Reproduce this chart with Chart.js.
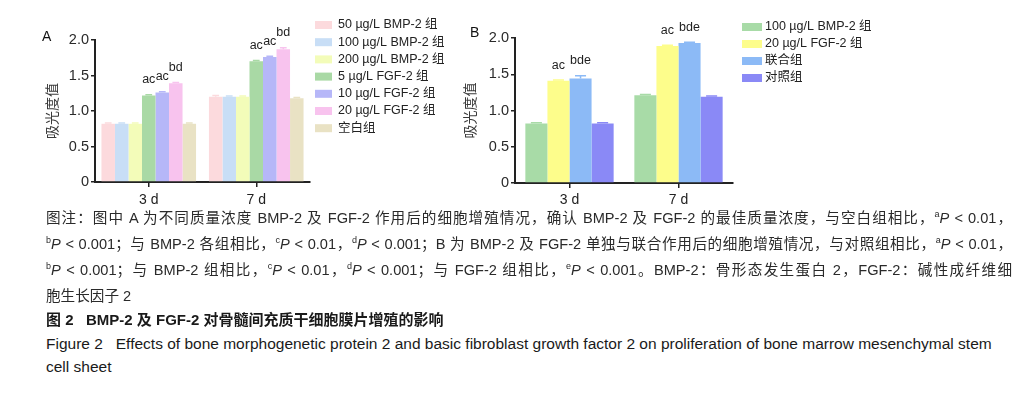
<!DOCTYPE html>
<html>
<head>
<meta charset="utf-8">
<script src="https://cdn.jsdelivr.net/npm/chart.js@4.4.1/dist/chart.umd.min.js"></script>
<style>
  body { margin: 0; background: #fff; width: 1036px; height: 394px; position: relative; overflow: hidden;
         font-family: "Liberation Sans", Arial, "Noto Sans CJK SC", sans-serif; color: #2a2a2a; }
  .box { position: absolute; top: 0; height: 210px; }
  #boxA { left: 0; width: 460px; }
  #boxB { left: 460px; width: 430px; }
  .tag { position: absolute; font-size: 14px; color: #111; }
  .cap { position: absolute; left: 46px; width: 966px; font-size: 14.6px; }
  .cap div { height: 26px; line-height: 26px; white-space: nowrap; }
  .cap .j { text-align: justify; text-align-last: justify; white-space: normal; overflow: hidden; }
  sup { font-size: 9px; vertical-align: 6px; line-height: 0; }
  .ttl { position: absolute; left: 46px; top: 308px; font-size: 15px; font-weight: bold; line-height: 24px; color: #1a1a1a; }
  .eng { position: absolute; left: 46px; top: 332px; font-size: 15.5px; line-height: 23px; width: 960px; color: #1a1a1a; }
</style>
</head>
<body>
<div id="boxA" class="box"><canvas id="chartA"></canvas></div>
<div id="boxB" class="box"><canvas id="chartB"></canvas></div>
<div class="tag" style="left:42px;top:28px;">A</div>
<div class="tag" style="left:470px;top:24px;">B</div>

<div class="cap" style="top:205px;">
  <div class="j">图注：图中 A 为不同质量浓度 BMP-2 及 FGF-2 作用后的细胞增殖情况，确认 BMP-2 及 FGF-2 的最佳质量浓度，与空白组相比，<sup>a</sup><i>P</i>&nbsp;&lt;&nbsp;0.01，</div>
  <div class="j"><sup>b</sup><i>P</i>&nbsp;&lt;&nbsp;0.001；与 BMP-2 各组相比，<sup>c</sup><i>P</i>&nbsp;&lt;&nbsp;0.01，<sup>d</sup><i>P</i>&nbsp;&lt;&nbsp;0.001；B 为 BMP-2 及 FGF-2 单独与联合作用后的细胞增殖情况，与对照组相比，<sup>a</sup><i>P</i>&nbsp;&lt;&nbsp;0.01，</div>
  <div class="j"><sup>b</sup><i>P</i>&nbsp;&lt;&nbsp;0.001；与 BMP-2 组相比，<sup>c</sup><i>P</i>&nbsp;&lt;&nbsp;0.01，<sup>d</sup><i>P</i>&nbsp;&lt;&nbsp;0.001；与 FGF-2 组相比，<sup>e</sup><i>P</i>&nbsp;&lt;&nbsp;0.001。BMP-2：骨形态发生蛋白 2，FGF-2：碱性成纤维细</div>
  <div>胞生长因子 2</div>
</div>
<div class="ttl">图 2&nbsp;&nbsp; BMP-2 及 FGF-2 对骨髓间充质干细胞膜片增殖的影响</div>
<div class="eng">Figure 2&nbsp;&nbsp; Effects of bone morphogenetic protein 2 and basic fibroblast growth factor 2 on proliferation of bone marrow mesenchymal stem cell sheet</div>

<script>
// categories / ticks
const days = ["3 d", "7 d"];
const yTickLabels = ["0", "0.5", "1.0", "1.5", "2.0"];

// Panel A series (3 d, 7 d)
const namesA = ["50 µg/L BMP-2 组", "100 µg/L BMP-2 组", "200 µg/L BMP-2 组", "5 µg/L FGF-2 组", "10 µg/L FGF-2 组", "20 µg/L FGF-2 组", "空白组"];
const bmp50 = [0.82, 1.20];
const bmp100 = [0.82, 1.20];
const bmp200 = [0.82, 1.20];
const fgf5 = [1.22, 1.70];
const fgf10 = [1.26, 1.76];
const fgf20 = [1.39, 1.87];
const blankA = [0.82, 1.18];
const errA = [[0.01, 0.02], [0.01, 0.01], [0.01, 0.01], [0.01, 0.01], [0.01, 0.01], [0.01, 0.02], [0.01, 0.01]];
const marksA = [["", ""], ["", ""], ["", ""], ["ac", "ac"], ["ac", "ac"], ["bd", "bd"], ["", ""]];
const colorsA = ["#fcdadd", "#c8def6", "#f3fcb9", "#a9d9a5", "#b6b7f8", "#f8c3ee", "#e9e2c4"];

// Panel B series (3 d, 7 d)
const namesB = ["100 µg/L BMP-2 组", "20 µg/L FGF-2 组", "联合组", "对照组"];
const bmpB = [0.82, 1.21];
const fgfB = [1.41, 1.89];
const comboB = [1.44, 1.93];
const ctrlB = [0.82, 1.19];
const errB = [[0.01, 0.01], [0.01, 0.01], [0.04, 0.01], [0.01, 0.01]];
const marksB = [["", ""], ["ac", "ac"], ["bde", "bde"], ["", ""]];
const colorsB = ["#a8dba7", "#fdfd8b", "#8cbaf6", "#8a89f6"];

const FONT = '"Liberation Sans", Arial, "Noto Sans CJK SC", sans-serif';

// petites barres d'erreur + lettres de significativité
const markPlugin = {
  id: "marks",
  afterDatasetsDraw(chart, args, opts) {
    const ctx = chart.ctx;
    const y = chart.scales.y;
    chart.data.datasets.forEach((ds, i) => {
      const meta = chart.getDatasetMeta(i);
      meta.data.forEach((bar, j) => {
        const top = y.getPixelForValue(ds.data[j] + opts.err[i][j]);
        const w = bar.width * 0.5;
        ctx.save();
        ctx.strokeStyle = ds.backgroundColor;
        ctx.lineWidth = 1.5;
        ctx.beginPath();
        ctx.moveTo(bar.x, bar.y);
        ctx.lineTo(bar.x, top);
        ctx.moveTo(bar.x - w / 2, top);
        ctx.lineTo(bar.x + w / 2, top);
        ctx.stroke();
        const txt = opts.marks[i][j];
        if (txt) {
          ctx.fillStyle = "#1e1e1e";
          ctx.font = "12.5px " + FONT;
          ctx.textAlign = "center";
          ctx.textBaseline = "middle";
          ctx.fillText(txt, bar.x, top - 15);
        }
        ctx.restore();
      });
    });
  }
};

// légende dessinée à la main, en haut à droite
const sideLegend = {
  id: "sideLegend",
  afterDraw(chart, args, opts) {
    const ctx = chart.ctx;
    ctx.save();
    ctx.font = "12.5px " + FONT;
    ctx.textBaseline = "middle";
    ctx.textAlign = "left";
    chart.data.datasets.forEach((ds, i) => {
      const cy = opts.y + i * opts.gap;
      ctx.fillStyle = ds.backgroundColor;
      ctx.fillRect(opts.x, cy - opts.boxH / 2, opts.boxW, opts.boxH);
      ctx.fillStyle = "#222";
      ctx.fillText(ds.label, opts.textX, cy);
    });
    ctx.restore();
  }
};

function makeChart(id, names, series, colors, errs, marks, cfg) {
  const datasets = series.map((vals, i) => ({
    label: names[i],
    data: vals,
    backgroundColor: colors[i],
    borderWidth: 0,
    categoryPercentage: cfg.catPct,
    barPercentage: 1.0
  }));
  return new Chart(document.getElementById(id), {
    type: "bar",
    data: { labels: days, datasets: datasets },
    plugins: [markPlugin, sideLegend],
    options: {
      responsive: true,
      maintainAspectRatio: false,
      animation: false,
      layout: { padding: { left: cfg.padL, right: cfg.padR, top: cfg.padT, bottom: 0 } },
      plugins: {
        legend: { display: false },
        tooltip: { enabled: false },
        marks: { err: errs, marks: marks },
        sideLegend: cfg.legend
      },
      scales: {
        x: {
          afterFit: (s) => { s.height = cfg.xH; },
          grid: { display: true, drawOnChartArea: false, drawTicks: true, tickLength: 5, offset: false, color: "#222", lineWidth: 1.5 },
          border: { display: true, color: "#222", width: 2 },
          ticks: { color: "#222", padding: cfg.xPad, font: { size: 14, family: FONT } }
        },
        y: {
          min: 0,
          max: 2,
          afterFit: (s) => { s.width = cfg.yW; },
          grid: { display: true, drawOnChartArea: false, drawTicks: true, tickLength: 4, color: "#222", lineWidth: 1.5 },
          border: { display: true, color: "#222", width: 2 },
          ticks: {
            stepSize: 0.5,
            color: "#2a2a2a",
            padding: 2,
            font: { size: 14.5, family: FONT },
            callback: (v, idx) => yTickLabels[idx]
          },
          title: { display: true, text: "吸光度值", color: "#3a3a3a", padding: 0, font: { size: 14, family: FONT } }
        }
      }
    }
  });
}

makeChart("chartA", namesA, [bmp50, bmp100, bmp200, fgf5, fgf10, fgf20, blankA], colorsA, errA, marksA, {
  catPct: 0.88, padL: 45, padR: 150, padT: 40, xH: 28, xPad: 5, yW: 50,
  legend: { x: 315, y: 25, gap: 17.2, boxW: 17, boxH: 8, textX: 338 }
});

makeChart("chartB", namesB, [bmpB, fgfB, comboB, ctrlB], colorsB, errB, marksB, {
  catPct: 0.81, padL: 3, padR: 157, padT: 38, xH: 27, xPad: 4, yW: 52,
  legend: { x: 282, y: 27, gap: 17, boxW: 20, boxH: 8, textX: 305 }
});
</script>
</body>
</html>
